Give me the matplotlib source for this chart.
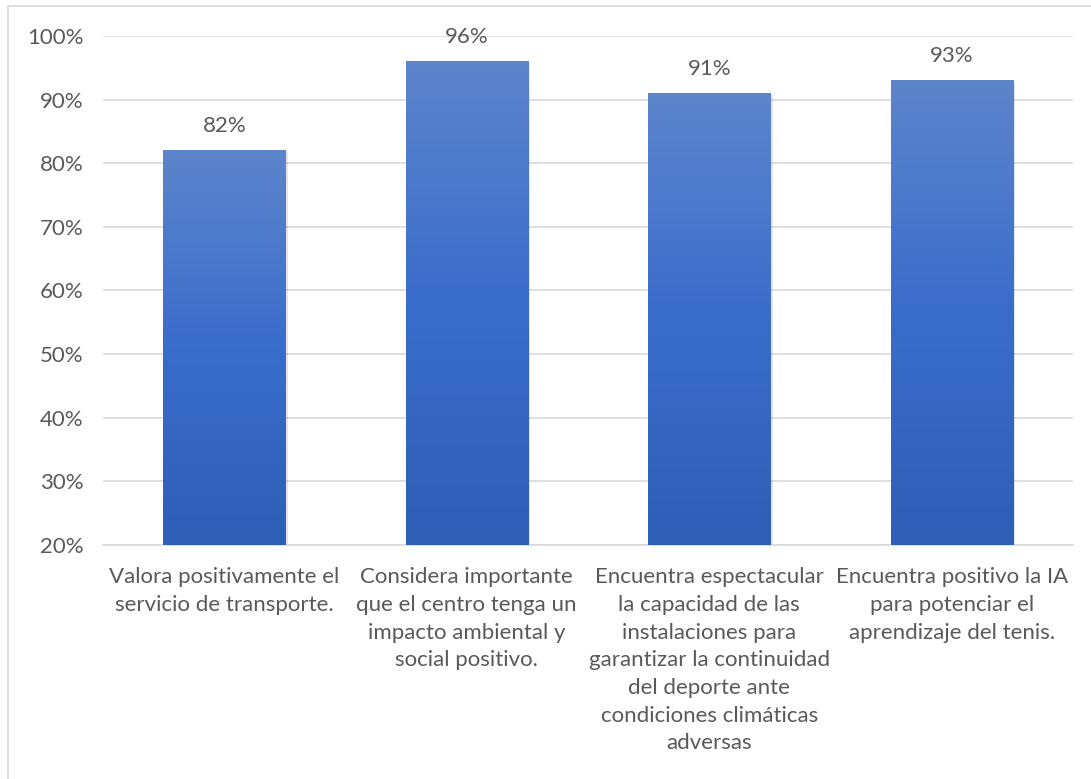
import numpy as np
import matplotlib.pyplot as plt
from matplotlib.colors import LinearSegmentedColormap
from matplotlib.patches import Rectangle

# Data
categories = [
    "Valora positivamente el\nservicio de transporte.",
    "Considera importante\nque el centro tenga un\nimpacto ambiental y\nsocial positivo.",
    "Encuentra espectacular\nla capacidad de las\ninstalaciones para\ngarantizar la continuidad\ndel deporte ante\ncondiciones climáticas\nadversas",
    "Encuentra positivo la IA\npara potenciar el\naprendizaje del tenis.",
]
values = [82, 96, 91, 93]
yticks = [20, 30, 40, 50, 60, 70, 80, 90, 100]

plt.rcParams['font.family'] = ['Lato', 'DejaVu Sans']
text_color = '#595959'

fig = plt.figure(figsize=(10.91, 7.79), dpi=100)
ax = fig.add_axes([103 / 1091, 1 - 545 / 779, (1073 - 103) / 1091, (545 - 36) / 779])

# outer chart border (left and top visible)
fig.add_artist(Rectangle((8 / 1091, -0.1), 1.2, 1 - 6 / 779 + 0.1,
                         transform=fig.transFigure, fill=False,
                         edgecolor='#d9d9d9', linewidth=1.2))

x = np.arange(len(values))
bars = ax.bar(x, values, width=0.505, bottom=0, color='none', zorder=3)

cmap = LinearSegmentedColormap.from_list('grad', ['#2e5fb7', '#3a6ccb', '#5d85cc'])
grad = np.linspace(0, 1, 256).reshape(-1, 1)
for b in bars:
    x0, w, h = b.get_x(), b.get_width(), b.get_height()
    # soft shadow
    ax.add_patch(Rectangle((x0 + 0.006, 20), w + 0.004, h - 20 - 0.2,
                           facecolor='#000000', alpha=0.10, zorder=2,
                           edgecolor='none'))
    ax.imshow(grad, cmap=cmap, aspect='auto', origin='lower',
              extent=[x0, x0 + w, 20, h], zorder=3)
    ax.text(x0 + w / 2, h + 2.3, f"{h}%", ha='center', va='bottom',
            fontsize=16, color=text_color)

ax.set_xlim(-0.5, len(values) - 0.5)
ax.set_ylim(20, 100)
ax.set_yticks(yticks)
ax.set_yticklabels([f"{t}%" for t in yticks])
ax.set_xticks(x)
ax.set_xticklabels(categories, va='top', linespacing=1.48)
ax.tick_params(axis='both', length=0, colors=text_color, labelsize=16)
ax.tick_params(axis='y', pad=14)
ax.tick_params(axis='x', pad=16)

ax.grid(True, axis='y', color='#d9d9d9', linewidth=1.2, zorder=0)
ax.set_axisbelow(True)
for s in ['top', 'right', 'left']:
    ax.spines[s].set_visible(False)
ax.spines['bottom'].set_color('#d9d9d9')
ax.spines['bottom'].set_linewidth(1.2)

fig.savefig('out.png', dpi=100)
